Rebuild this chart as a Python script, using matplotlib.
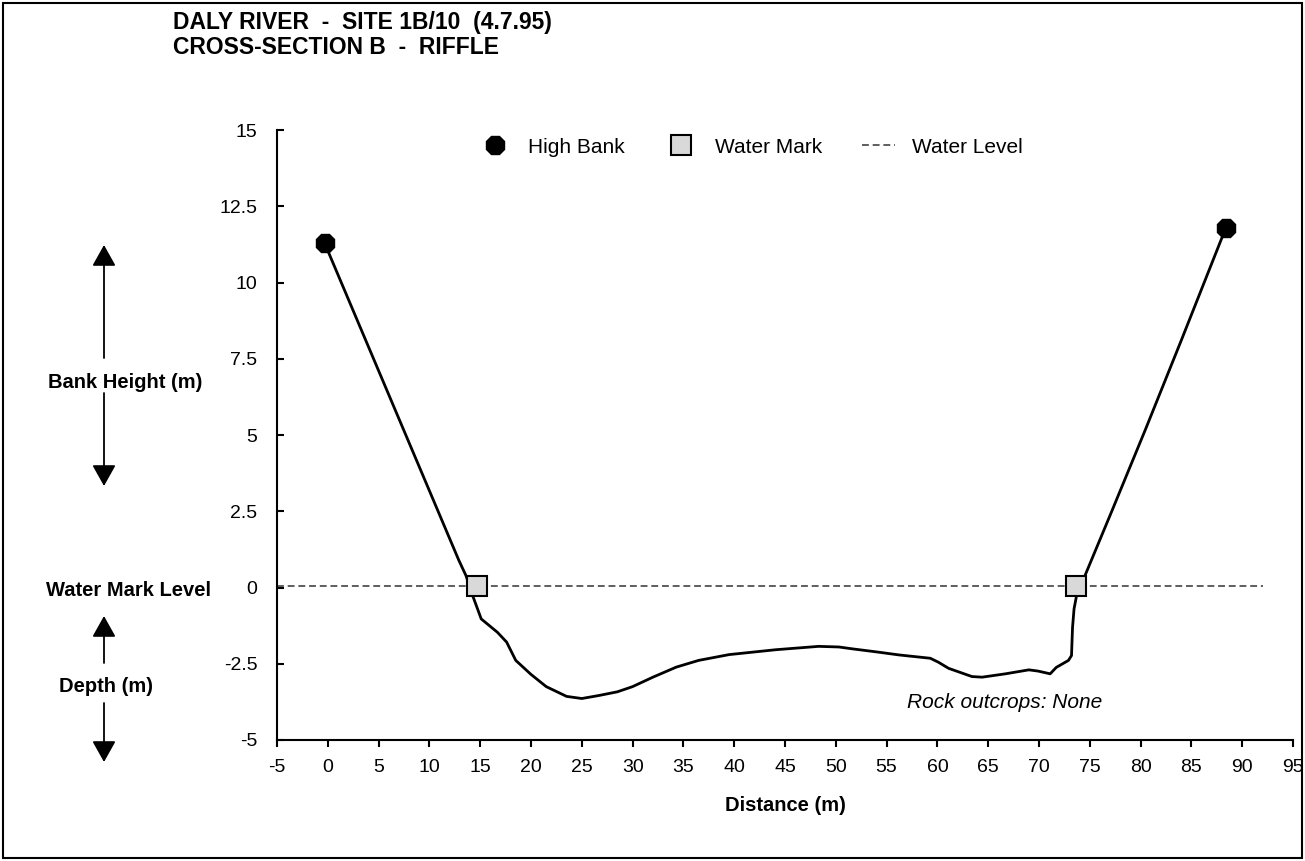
import matplotlib
matplotlib.use("Agg")
import matplotlib.pyplot as plt
from matplotlib.patches import Rectangle, FancyArrowPatch

plt.rcParams["font.family"] = ["Liberation Sans", "DejaVu Sans"]

# cross-section profile (distance m, elevation m relative to water mark)
profile_dist = [-0.3, 12.9, 13.6, 14.25, 15.1, 16.7, 17.6, 18.5, 20.0, 21.5, 23.5, 25.0,
                26.7, 28.5, 30.0, 32.0, 34.3, 36.5, 39.5, 44.1, 46.4, 48.3, 50.3, 51.6,
                54.2, 56.2, 59.3, 60.1, 61.1, 63.4, 64.4, 66.7, 69.0, 69.9, 71.1, 71.7,
                72.9, 73.2, 73.3, 73.45, 73.7, 74.6, 77.1, 80.5, 84.0, 88.4]
profile_elev = [11.28, 0.89, 0.39, -0.26, -1.03, -1.47, -1.79, -2.39, -2.85, -3.25, -3.57, -3.64,
                -3.54, -3.42, -3.25, -2.94, -2.61, -2.39, -2.2, -2.04, -1.98, -1.93, -1.95, -2.01,
                -2.12, -2.21, -2.32, -2.45, -2.65, -2.92, -2.94, -2.83, -2.7, -2.74, -2.83, -2.62,
                -2.39, -2.23, -1.31, -0.7, -0.26, 0.45, 2.45, 5.2, 8.1, 11.8]

high_bank_x = [-0.3, 88.4]
high_bank_y = [11.28, 11.8]

water_mark_x = [14.7, 73.6]
water_mark_y = [0.05, 0.05]

water_level_x = [-5, 92.0]
water_level_y = [0.05, 0.05]

x_ticks = list(range(-5, 100, 5))
y_ticks = [-5, -2.5, 0, 2.5, 5, 7.5, 10, 12.5, 15]
y_tick_labels = ["-5", "-2.5", "0", "2.5", "5", "7.5", "10", "12.5", "15"]

fig = plt.figure(figsize=(13.05, 8.61), dpi=100)
ax = fig.add_axes([277 / 1305, 1 - 740 / 861, (1293 - 277) / 1305, (740 - 130) / 861])

ax.plot(profile_dist, profile_elev, color="black", lw=2.0, zorder=2)
ax.plot(water_level_x, water_level_y, color="#333333", lw=1.1, ls=(0, (4.5, 2.5)),
        label="Water Level", zorder=1)
ax.plot(high_bank_x, high_bank_y, ls="none", marker="8", ms=13.5, color="black",
        label="High Bank", zorder=3)
ax.plot(water_mark_x, water_mark_y, ls="none", marker="s", ms=14, mfc="#d9d9d9",
        mec="black", mew=1.5, label="Water Mark", zorder=3)

ax.set_xlim(-5, 95)
ax.set_ylim(-5, 15)
ax.set_xticks(x_ticks)
ax.set_xticklabels([str(v) for v in x_ticks])
ax.set_yticks(y_ticks)
ax.set_yticklabels(y_tick_labels)
ax.tick_params(axis="x", direction="out", length=5, width=1.5, labelsize=14, pad=9)
ax.tick_params(axis="y", direction="in", length=5, width=1.5, labelsize=14, pad=14)
for s in ["top", "right"]:
    ax.spines[s].set_visible(False)
for s in ["left", "bottom"]:
    ax.spines[s].set_linewidth(1.5)

ax.set_xlabel("Distance (m)", fontsize=14.5, fontweight="bold", labelpad=14)

handles, labels = ax.get_legend_handles_labels()
order = [1, 2, 0]
ax.legend([handles[i] for i in order], [labels[i] for i in order], ncol=3, frameon=False,
          loc="center", bbox_to_anchor=(0.466, 0.972), fontsize=15,
          columnspacing=1.9, handlelength=1.6, handletextpad=0.8)

ax.text(1005 / 1305, 1 - 703 / 861, "Rock outcrops: None", transform=fig.transFigure,
        style="italic", fontsize=15, ha="center", va="center")

# titles
fig.text(173 / 1305, 1 - 22 / 861, "DALY RIVER  -  SITE 1B/10  (4.7.95)",
         fontsize=16.5, fontweight="bold", va="center")
fig.text(173 / 1305, 1 - 48 / 861, "CROSS-SECTION B  -  RIFFLE",
         fontsize=16.5, fontweight="bold", va="center")

# left side annotations
fig.text(125 / 1305, 1 - 383 / 861, "Bank Height (m)", fontsize=14.5, fontweight="bold",
         ha="center", va="center")
fig.text(128 / 1305, 1 - 590 / 861, "Water Mark Level", fontsize=14.5, fontweight="bold",
         ha="center", va="center")
fig.text(106 / 1305, 1 - 687 / 861, "Depth (m)", fontsize=14.5, fontweight="bold",
         ha="center", va="center")

arrow = dict(arrowstyle="-|>,head_length=0.5,head_width=0.28", color="black", lw=1.3,
             mutation_scale=26, shrinkA=0, shrinkB=0)
for y0, y1 in [(358, 245), (393, 486), (663, 616), (703, 762)]:
    fig.add_artist(FancyArrowPatch((104 / 1305, 1 - y0 / 861), (104 / 1305, 1 - y1 / 861),
                                   transform=fig.transFigure, **arrow))

fig.add_artist(Rectangle((0.002, 0.003), 0.996, 0.994, transform=fig.transFigure,
                         fill=False, edgecolor="black", lw=1.5))

fig.savefig("out.png", dpi=100)
